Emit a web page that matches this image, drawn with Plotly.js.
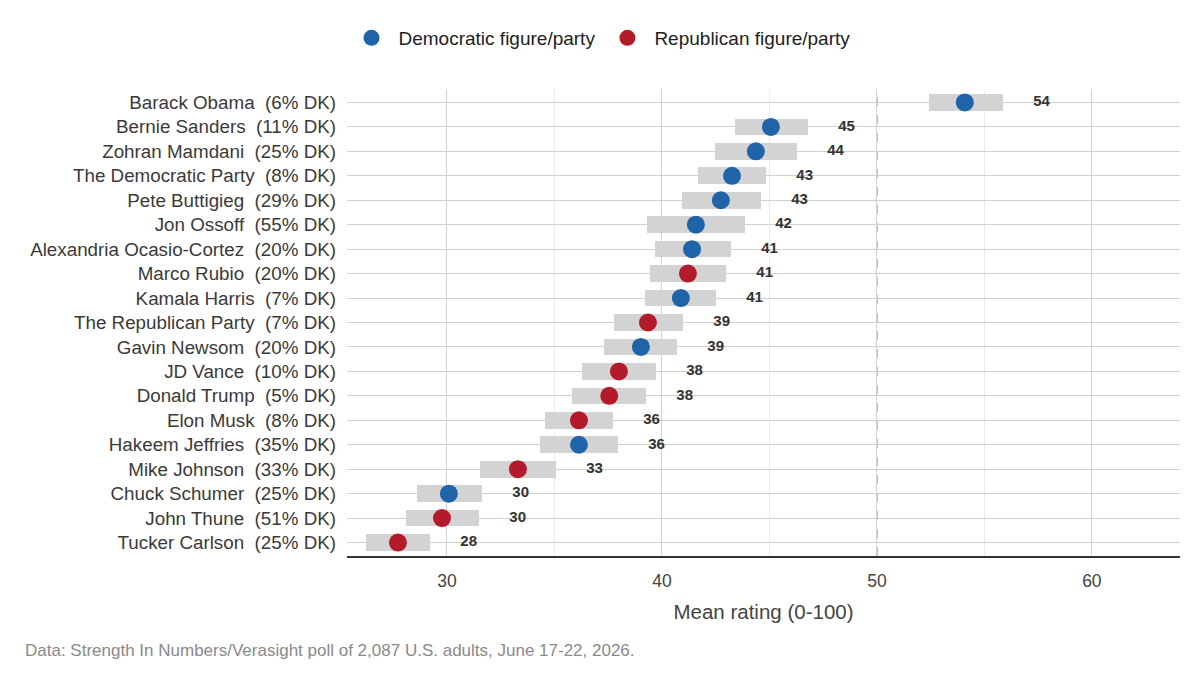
<!DOCTYPE html>
<html>
<head>
<meta charset="utf-8">
<script src="https://cdn.plot.ly/plotly-3.0.1.min.js"></script>
<style>
  html, body { margin: 0; padding: 0; background: #ffffff; }
  #chart { width: 1200px; height: 675px; }
</style>
</head>
<body>
<div id="chart"></div>
<script>
// Figures and parties, listed top to bottom
const names = [
  "Barack Obama", "Bernie Sanders", "Zohran Mamdani", "The Democratic Party",
  "Pete Buttigieg", "Jon Ossoff", "Alexandria Ocasio-Cortez", "Marco Rubio",
  "Kamala Harris", "The Republican Party", "Gavin Newsom", "JD Vance",
  "Donald Trump", "Elon Musk", "Hakeem Jeffries", "Mike Johnson",
  "Chuck Schumer", "John Thune", "Tucker Carlson"
];
// Share answering "don't know"
const dontKnow = [6, 11, 25, 8, 29, 55, 20, 20, 7, 7, 20, 10, 5, 8, 35, 33, 25, 51, 25];
// Party of each figure: D or R
const party = ["D","D","D","D","D","D","D","R","D","R","D","R","R","R","D","R","D","R","R"];
// Mean rating (0-100)
const meanRating = [54.09, 45.07, 44.37, 43.26, 42.74, 41.58, 41.40, 41.21, 40.88, 39.35,
                    39.02, 38.00, 37.55, 36.14, 36.14, 33.30, 30.09, 29.77, 27.72];
// 95% interval bounds
const lowerBound = [52.42, 43.40, 42.47, 41.67, 40.93, 39.30, 39.67, 39.44, 39.20, 37.77,
                    37.30, 36.28, 35.81, 34.56, 34.33, 31.53, 28.60, 28.09, 26.23];
const upperBound = [55.86, 46.79, 46.28, 44.84, 44.60, 43.86, 43.21, 42.98, 42.51, 40.98,
                    40.70, 39.72, 39.26, 37.72, 37.95, 35.07, 31.63, 31.49, 29.21];

const n = names.length;
const rowPos = names.map((_, i) => n - 1 - i);
const rowLabels = names.map((nm, i) => nm + "\u00a0\u00a0(" + dontKnow[i] + "% DK)");

const DEM = "#1f63a9";
const REP = "#b31b2d";
const FONT = "Liberation Sans, Arial, sans-serif";

function pick(arr, p) { return arr.filter((_, i) => party[i] === p); }

const intervals = {
  type: "bar",
  orientation: "h",
  y: rowPos,
  base: lowerBound,
  x: upperBound.map((u, i) => u - lowerBound[i]),
  width: 0.68,
  marker: { color: "#d3d3d3", line: { width: 0 } },
  showlegend: false,
  hoverinfo: "skip"
};

const demDots = {
  type: "scatter", mode: "markers",
  name: "Democratic figure/party",
  x: pick(meanRating, "D"), y: pick(rowPos, "D"),
  marker: { color: DEM, size: 18, line: { width: 0 } },
  hoverinfo: "skip"
};
const repDots = {
  type: "scatter", mode: "markers",
  name: "Republican figure/party",
  x: pick(meanRating, "R"), y: pick(rowPos, "R"),
  marker: { color: REP, size: 18, line: { width: 0 } },
  hoverinfo: "skip"
};

const valueLabels = {
  type: "scatter", mode: "text",
  x: upperBound.map(u => u + 1.8),
  y: rowPos,
  text: meanRating.map(v => String(Math.round(v))),
  textposition: "middle center",
  textfont: { family: FONT, size: 15, color: "#333333", weight: "bold" },
  showlegend: false,
  hoverinfo: "skip"
};

const layout = {
  width: 1200, height: 675,
  paper_bgcolor: "#ffffff", plot_bgcolor: "#ffffff",
  margin: { l: 347, r: 20, t: 89, b: 119 },
  font: { family: FONT, color: "#333333" },
  hovermode: false,
  bargap: 0,
  xaxis: {
    range: [25.35, 64.1],
    tickvals: [30, 40, 50, 60],
    showgrid: true, gridcolor: "#d2d2d2", gridwidth: 1,
    minor: { tickvals: [35, 45, 55], showgrid: true, gridcolor: "#ececec", gridwidth: 1, ticks: "" },
    zeroline: false,
    showline: true, linecolor: "#333333", linewidth: 1.5,
    ticks: "", ticklabelstandoff: 8,
    tickfont: { family: FONT, size: 17.5, color: "#444444" },
    title: { text: "Mean rating (0-100)", font: { family: FONT, size: 20.5, color: "#444444" }, standoff: 15 }
  },
  yaxis: {
    range: [-0.55, n - 0.45],
    tickvals: rowPos, ticktext: rowLabels,
    showgrid: true, gridcolor: "#d0d0d0", gridwidth: 1,
    zeroline: false, showline: false,
    ticks: "", ticklabelstandoff: 10,
    tickfont: { family: FONT, size: 18.8, color: "#3a3a3a" }
  },
  shapes: [{
    // reference line at the scale midpoint
    type: "line", xref: "x", yref: "paper",
    x0: 50, x1: 50, y0: 0, y1: 1,
    line: { color: "#9a9a9a", width: 1.4, dash: "dash" },
    layer: "below"
  }],
  legend: {
    orientation: "h",
    xref: "container", yref: "container",
    x: 0.5, xanchor: "center",
    y: 1 - 38 / 675, yanchor: "middle",
    itemwidth: 44,
    font: { family: FONT, size: 19, color: "#222222" }
  },
  annotations: [{
    xref: "paper", yref: "paper",
    x: -324 / 833, y: -94 / 467,
    xanchor: "left", yanchor: "middle",
    showarrow: false,
    text: "Data: Strength In Numbers/Verasight poll of 2,087 U.S. adults, June 17-22, 2026.",
    font: { family: FONT, size: 17, color: "#8a8a8a" }
  }]
};

Plotly.newPlot("chart", [intervals, demDots, repDots, valueLabels], layout, { displayModeBar: false, staticPlot: true });
</script>
</body>
</html>
